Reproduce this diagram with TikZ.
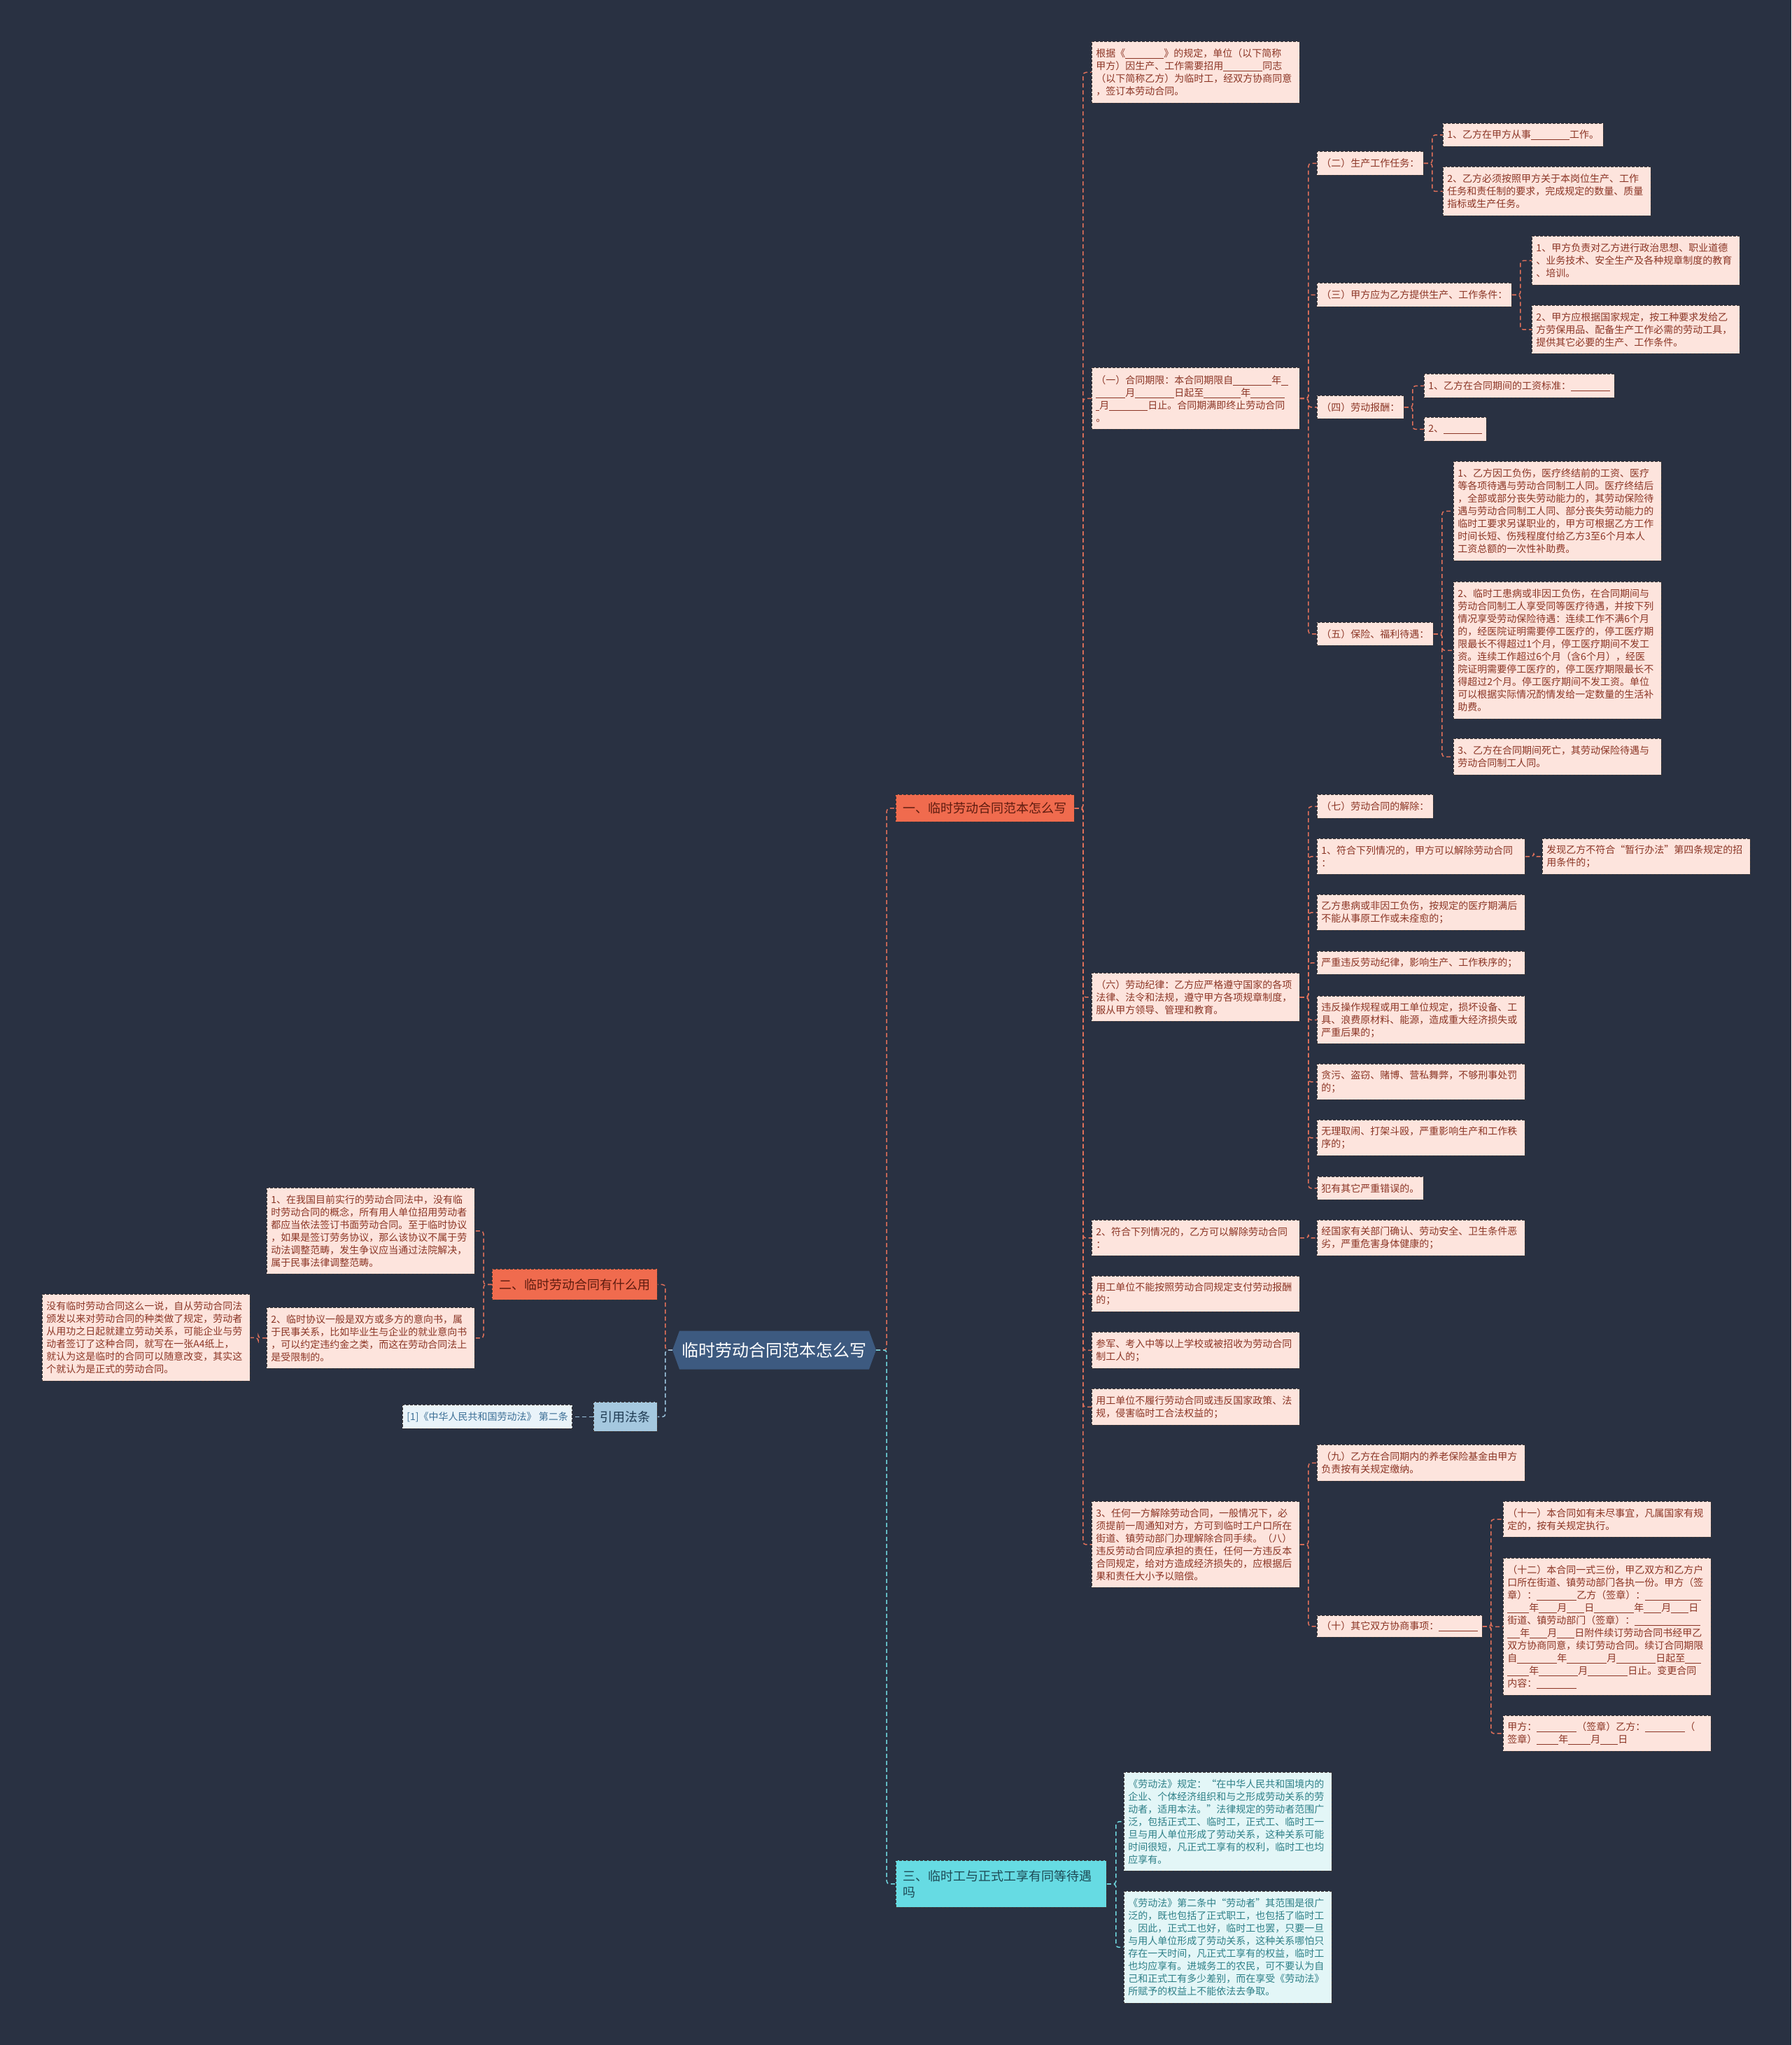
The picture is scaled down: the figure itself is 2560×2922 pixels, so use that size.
\documentclass[tikz,border=0pt]{standalone}
\usepackage{fontspec}
\newfontfamily\cjk{Noto Sans CJK SC}
\usetikzlibrary{shapes.symbols}
\definecolor{bg}{HTML}{293142}
\definecolor{hubfill}{HTML}{3D5A80}
\definecolor{brred}{HTML}{F06B4E}
\definecolor{brtext}{HTML}{5E1C10}
\definecolor{leaffill}{HTML}{FDE4DD}
\definecolor{leaftext}{HTML}{8B3525}
\definecolor{boxline}{HTML}{3B3535}
\definecolor{cyanfill}{HTML}{66DBE3}
\definecolor{cyantext}{HTML}{1D4A55}
\definecolor{cyanleaffill}{HTML}{E3F6F7}
\definecolor{cyanleaftext}{HTML}{2D7F87}
\definecolor{blfill}{HTML}{A5C8DF}
\definecolor{bltext}{HTML}{1F3A52}
\definecolor{blleaffill}{HTML}{E9F3F9}
\definecolor{blleaftext}{HTML}{3C6F96}
\definecolor{redlink}{HTML}{E0705A}
\definecolor{cyanlink}{HTML}{6FD6DE}
\definecolor{bluelink}{HTML}{9CC4DE}
\newcommand\fillblank[1]{\rule[-2.5pt]{#1pt}{0.8pt}}
\begin{document}
\begin{tikzpicture}[x=1pt, y=-1pt,
  box/.style={anchor=north west, draw=boxline, dash pattern=on 4pt off 2pt, line width=0.9pt, inner xsep=6pt, inner ysep=3pt},
  small/.style={font=\cjk\fontsize{14pt}{18pt}\selectfont},
  leaf/.style={box, small, fill=leaffill, text=leaftext, text width=285pt, align=left, minimum height=#1},
  tag/.style={box, small, fill=leaffill, text=leaftext, minimum height=#1},
  cyanleaf/.style={leaf=#1, fill=cyanleaffill, text=cyanleaftext},
  bluetag/.style={tag=#1, fill=blleaffill, text=blleaftext},
  branch/.style={box, fill=brred, text=brtext, font=\cjk\fontsize{18pt}{23pt}\selectfont, minimum height=#1},
  hub/.style={signal, signal to=west and east, signal pointer angle=140, fill=hubfill, text=white,
    font=\cjk\fontsize{24pt}{28pt}\selectfont, minimum width=291pt, minimum height=55pt, inner sep=0pt},
  link/.style={draw=#1, dash pattern=on 6pt off 4pt, line width=1.5pt, rounded corners=4pt}]
  \fill[bg] (0,0) rectangle (2560,2922);

  \node[hub] (hub) at (1106.5,1929) {临时劳动合同范本怎么写};
  \node[branch=39, minimum width=255pt] (br1) at (1280,1135) {一、临时劳动合同范本怎么写};
  \node[branch=44, minimum width=236pt] (br2) at (703,1813) {二、临时劳动合同有什么用};
  \node[branch=42, minimum width=91pt, fill=blfill, text=bltext] (brf) at (848,2003) {引用法条};
  \node[branch=67, fill=cyanfill, text=cyantext, text width=281pt, align=left, inner xsep=10pt] (br3) at (1280,2658)
    {三、临时工与正式工享有同等待遇\\吗};

  \node[leaf=88] (a1) at (1560,59) {根据《\fillblank{55}》的规定，单位（以下简称\\甲方）因生产、工作需要招用\fillblank{56}同志\\（以下简称乙方）为临时工，经双方协商同意\\，签订本劳动合同。};
  \node[leaf=88] (a2) at (1560,525) {（一）合同期限：本合同期限自\fillblank{55}年\fillblank{10}\\\fillblank{42}月\fillblank{56}日起至\fillblank{53}年\fillblank{49}\\\fillblank{5}月\fillblank{55}日止。合同期满即终止劳动合同\\。};
  \node[leaf=69] (a3) at (1560,1390) {（六）劳动纪律：乙方应严格遵守国家的各项\\法律、法令和法规，遵守甲方各项规章制度，\\服从甲方领导、管理和教育。};
  \node[leaf=51] (a4) at (1560,1743) {2、符合下列情况的，乙方可以解除劳动合同\\：};
  \node[leaf=51] (a5) at (1560,1823) {用工单位不能按照劳动合同规定支付劳动报酬\\的；};
  \node[leaf=52] (a6) at (1560,1903) {参军、考入中等以上学校或被招收为劳动合同\\制工人的；};
  \node[leaf=52] (a7) at (1560,1984) {用工单位不履行劳动合同或违反国家政策、法\\规，侵害临时工合法权益的；};
  \node[leaf=123] (a8) at (1560,2145) {3、任何一方解除劳动合同，一般情况下，必\\须提前一周通知对方，方可到临时工户口所在\\街道、镇劳动部门办理解除合同手续。（八）\\违反劳动合同应承担的责任，任何一方违反本\\合同规定，给对方造成经济损失的，应根据后\\果和责任大小予以赔偿。};

  \node[tag=34] (s2) at (1882,216) {（二）生产工作任务：};
  \node[tag=34] (s3) at (1882,404) {（三）甲方应为乙方提供生产、工作条件：};
  \node[tag=33] (s4) at (1882,565) {（四）劳动报酬：};
  \node[tag=33] (s5) at (1882,889) {（五）保险、福利待遇：};

  \node[tag=33] (c21) at (2062,176) {1、乙方在甲方从事\fillblank{55}工作。};
  \node[leaf=70] (c22) at (2062,238) {2、乙方必须按照甲方关于本岗位生产、工作\\任务和责任制的要求，完成规定的数量、质量\\指标或生产任务。};
  \node[leaf=70] (c31) at (2189,337) {1、甲方负责对乙方进行政治思想、职业道德\\、业务技术、安全生产及各种规章制度的教育\\、培训。};
  \node[leaf=69] (c32) at (2189,436) {2、甲方应根据国家规定，按工种要求发给乙\\方劳保用品、配备生产工作必需的劳动工具，\\提供其它必要的生产、工作条件。};
  \node[tag=34] (c41) at (2035,534) {1、乙方在合同期间的工资标准：\fillblank{56}};
  \node[tag=34] (c42) at (2035,596) {2、\fillblank{55}};
  \node[leaf=142] (c51) at (2077,659) {1、乙方因工负伤，医疗终结前的工资、医疗\\等各项待遇与劳动合同制工人同。医疗终结后\\，全部或部分丧失劳动能力的，其劳动保险待\\遇与劳动合同制工人同、部分丧失劳动能力的\\临时工要求另谋职业的，甲方可根据乙方工作\\时间长短、伤残程度付给乙方3至6个月本人\\工资总额的一次性补助费。};
  \node[leaf=196] (c52) at (2077,831) {2、临时工患病或非因工负伤，在合同期间与\\劳动合同制工人享受同等医疗待遇，并按下列\\情况享受劳动保险待遇：连续工作不满6个月\\的，经医院证明需要停工医疗的，停工医疗期\\限最长不得超过1个月，停工医疗期间不发工\\资。连续工作超过6个月（含6个月），经医\\院证明需要停工医疗的，停工医疗期限最长不\\得超过2个月。停工医疗期间不发工资。单位\\可以根据实际情况酌情发给一定数量的生活补\\助费。};
  \node[leaf=52] (c53) at (2077,1055) {3、乙方在合同期间死亡，其劳动保险待遇与\\劳动合同制工人同。};

  \node[tag=34] (d7) at (1882,1135) {（七）劳动合同的解除：};
  \node[leaf=51] (d1) at (1882,1198) {1、符合下列情况的，甲方可以解除劳动合同\\：};
  \node[leaf=51] (e1) at (2204,1198) {发现乙方不符合“暂行办法”第四条规定的招\\用条件的；};
  \node[leaf=51] (d2) at (1882,1278) {乙方患病或非因工负伤，按规定的医疗期满后\\不能从事原工作或未痊愈的；};
  \node[leaf=33] (d3) at (1882,1359) {严重违反劳动纪律，影响生产、工作秩序的；};
  \node[leaf=68] (d4) at (1882,1423) {违反操作规程或用工单位规定，损坏设备、工\\具、浪费原材料、能源，造成重大经济损失或\\严重后果的；};
  \node[leaf=51] (d5) at (1882,1520) {贪污、盗窃、赌博、营私舞弊，不够刑事处罚\\的；};
  \node[leaf=51] (d6) at (1882,1600) {无理取闹、打架斗殴，严重影响生产和工作秩\\序的；};
  \node[tag=33] (d8) at (1882,1681) {犯有其它严重错误的。};
  \node[leaf=51] (g1) at (1882,1743) {经国家有关部门确认、劳动安全、卫生条件恶\\劣，严重危害身体健康的；};

  \node[leaf=52] (f9) at (1882,2064) {（九）乙方在合同期内的养老保险基金由甲方\\负责按有关规定缴纳。};
  \node[tag=31] (f10) at (1882,2308) {（十）其它双方协商事项：\fillblank{56}};
  \node[leaf=51] (g11) at (2148,2145) {（十一）本合同如有未尽事宜，凡属国家有规\\定的，按有关规定执行。};
  \node[leaf=196] (g12) at (2148,2226) {（十二）本合同一式三份，甲乙双方和乙方户\\口所在街道、镇劳动部门各执一份。甲方（签\\章）：\fillblank{57}乙方（签章）：\fillblank{80}\\\fillblank{31}年\fillblank{26}月\fillblank{25}日\fillblank{57}年\fillblank{25}月\fillblank{25}日\\街道、镇劳动部门（签章）：\fillblank{94}\\\fillblank{18}年\fillblank{25}月\fillblank{25}日附件续订劳动合同书经甲乙\\双方协商同意，续订劳动合同。续订合同期限\\自\fillblank{57}年\fillblank{57}月\fillblank{56}日起至\fillblank{23}\\\fillblank{31}年\fillblank{56}月\fillblank{57}日止。变更合同\\内容：\fillblank{57}};
  \node[leaf=51] (g13) at (2148,2451) {甲方：\fillblank{57}（签章）乙方：\fillblank{57}（\\签章）\fillblank{31}年\fillblank{32}月\fillblank{25}日};

  \node[cyanleaf=141] (h1) at (1606,2532) {《劳动法》规定：“在中华人民共和国境内的\\企业、个体经济组织和与之形成劳动关系的劳\\动者，适用本法。”法律规定的劳动者范围广\\泛，包括正式工、临时工，正式工、临时工一\\旦与用人单位形成了劳动关系，这种关系可能\\时间很短，凡正式工享有的权利，临时工也均\\应享有。};
  \node[cyanleaf=160] (h2) at (1606,2702) {《劳动法》第二条中“劳动者”其范围是很广\\泛的，既也包括了正式职工，也包括了临时工\\。因此，正式工也好，临时工也罢，只要一旦\\与用人单位形成了劳动关系，这种关系哪怕只\\存在一天时间，凡正式工享有的权益，临时工\\也均应享有。进城务工的农民，可不要认为自\\己和正式工有多少差别，而在享受《劳动法》\\所赋予的权益上不能依法去争取。};

  \node[leaf=123] (l1) at (381,1697) {1、在我国目前实行的劳动合同法中，没有临\\时劳动合同的概念，所有用人单位招用劳动者\\都应当依法签订书面劳动合同。至于临时协议\\，如果是签订劳务协议，那么该协议不属于劳\\动法调整范畴，发生争议应当通过法院解决，\\属于民事法律调整范畴。};
  \node[leaf=87] (l2) at (381,1868) {2、临时协议一般是双方或多方的意向书，属\\于民事关系，比如毕业生与企业的就业意向书\\，可以约定违约金之类，而这在劳动合同法上\\是受限制的。};
  \node[leaf=124] (l3) at (60,1849) {没有临时劳动合同这么一说，自从劳动合同法\\颁发以来对劳动合同的种类做了规定，劳动者\\从用功之日起就建立劳动关系，可能企业与劳\\动者签订了这种合同，就写在一张A4纸上，\\就认为这是临时的合同可以随意改变，其实这\\个就认为是正式的劳动合同。};
  \node[bluetag=34] (r1) at (575,2007) {[1]《中华人民共和国劳动法》 第二条};

  \draw[link=redlink] (hub.east) -- ++(15,0) |- (br1.west);
  \draw[link=cyanlink] (hub.east) -- ++(15,0) |- (br3.west);
  \draw[link=redlink] (hub.west) -- ++(-10,0) |- (br2.east);
  \draw[link=bluelink] (hub.west) -- ++(-10,0) |- (brf.east);
  \foreach \i in {1,...,8}
    \draw[link=redlink] (br1.east) -- ++(12,0) |- (a\i.west);
  \foreach \p/\c in {a2/s2,a2/s3,a2/s4,a2/s5,s2/c21,s2/c22,s3/c31,s3/c32,s4/c41,s4/c42,s5/c51,s5/c52,s5/c53,
      a3/d7,a3/d1,a3/d2,a3/d3,a3/d4,a3/d5,a3/d6,a3/d8,d1/e1,a4/g1,a8/f9,a8/f10,f10/g11,f10/g12,f10/g13}
    \draw[link=redlink] (\p.east) -- ++(12,0) |- (\c.west);
  \foreach \p/\c in {br2/l1,br2/l2,l2/l3}
    \draw[link=redlink] (\p.west) -- ++(-12,0) |- (\c.east);
  \draw[link=bluelink] (brf.west) -- (r1.east);
  \foreach \c in {h1,h2}
    \draw[link=cyanlink] (br3.east) -- ++(13,0) |- (\c.west);
\end{tikzpicture}
\end{document}
